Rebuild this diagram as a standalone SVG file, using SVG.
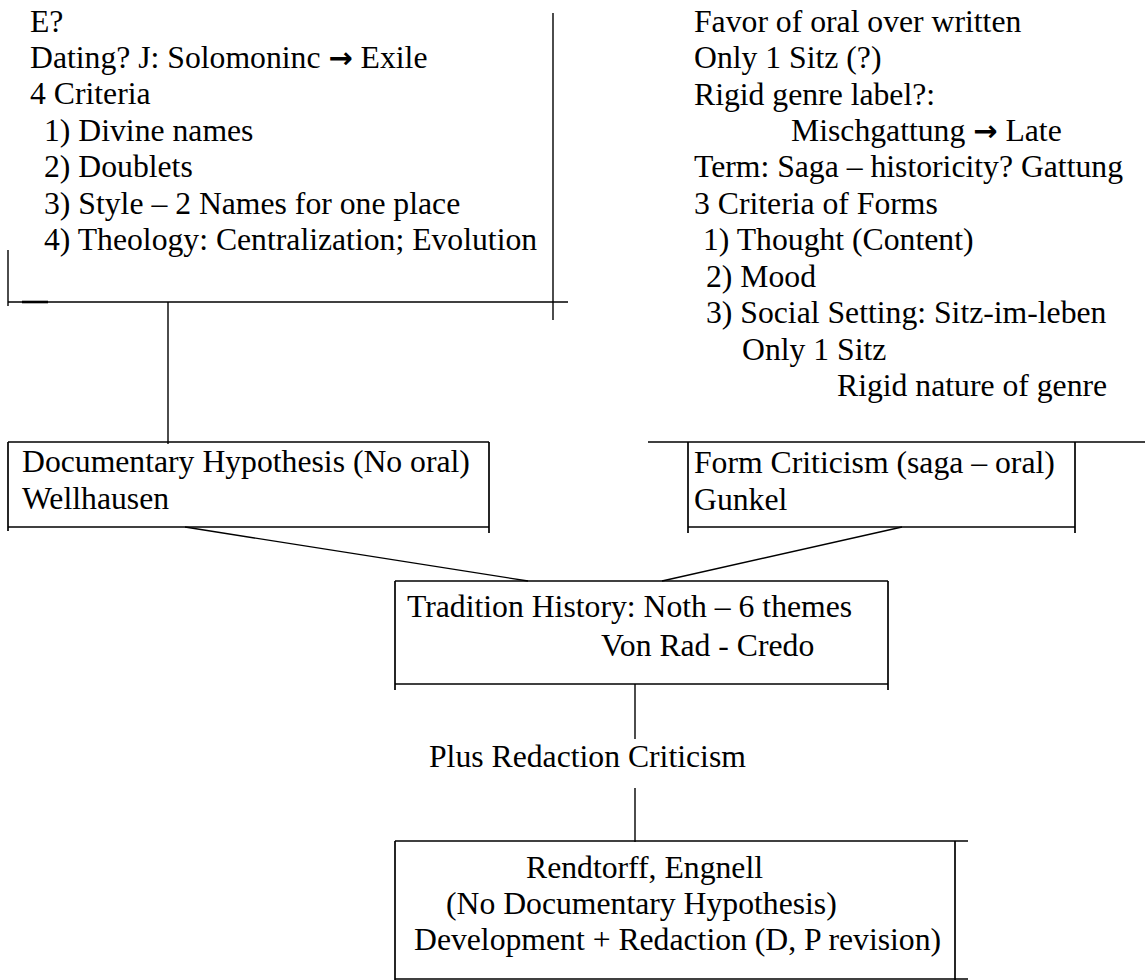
<svg xmlns="http://www.w3.org/2000/svg" width="1145" height="980" viewBox="0 0 1145 980">
  <style>
    .t { font-family: "Liberation Serif", "Times New Roman", serif; font-size: 31.7px; fill: #000; }
    .ar { font-family: "DejaVu Sans", sans-serif; font-weight: bold; font-size: 29px; }
    .ln { stroke: #000; stroke-width: 1.4; fill: none; }
    .bx { stroke: #000; stroke-width: 1.7; fill: none; }
  </style>
  <rect x="0" y="0" width="1145" height="980" fill="#fff"/>

  <g id="node-documentary-notes">
    <line class="ln" x1="553" y1="13" x2="553" y2="320"/>
    <line class="ln" x1="8" y1="302" x2="568" y2="302"/>
    <line class="ln" x1="8" y1="250" x2="8" y2="306"/>
    <line stroke="#000" stroke-width="2.6" x1="22" y1="302" x2="48" y2="302"/>
    <text class="t" x="30" y="31.5">E?</text>
    <text class="t" x="30" y="68">Dating? J: Solomoninc <tspan class="ar">→</tspan> Exile</text>
    <text class="t" x="30" y="104">4 Criteria</text>
    <text class="t" x="44" y="140.5">1) Divine names</text>
    <text class="t" x="44" y="177">2) Doublets</text>
    <text class="t" x="44" y="213.5">3) Style – 2 Names for one place</text>
    <text class="t" x="44" y="250">4) Theology: Centralization; Evolution</text>
  </g>

  <g id="node-form-notes">
    <text class="t" x="694" y="31.5">Favor of oral over written</text>
    <text class="t" x="694" y="68">Only 1 Sitz (?)</text>
    <text class="t" x="694" y="104.5">Rigid genre label?:</text>
    <text class="t" x="791" y="141">Mischgattung <tspan class="ar">→</tspan> Late</text>
    <text class="t" x="694" y="177">Term: Saga – historicity? Gattung</text>
    <text class="t" x="694" y="213.5">3 Criteria of Forms</text>
    <text class="t" x="703" y="250">1) Thought (Content)</text>
    <text class="t" x="706" y="287">2) Mood</text>
    <text class="t" x="706" y="323">3) Social Setting: Sitz-im-leben</text>
    <text class="t" x="742" y="360">Only 1 Sitz</text>
    <text class="t" x="837" y="396">Rigid nature of genre</text>
  </g>

  <g id="node-documentary">
    <line class="bx" x1="8" y1="442" x2="489" y2="442"/>
    <line class="bx" x1="8" y1="527" x2="489" y2="527"/>
    <line class="bx" x1="8" y1="442" x2="8" y2="531"/>
    <line class="bx" x1="489" y1="442" x2="489" y2="533"/>
    <text class="t" x="22" y="472">Documentary Hypothesis (No oral)</text>
    <text class="t" x="22" y="508.5">Wellhausen</text>
  </g>

  <g id="node-form">
    <line class="bx" x1="648" y1="442" x2="1145" y2="442"/>
    <line class="bx" x1="688" y1="527" x2="1075" y2="527"/>
    <line class="bx" x1="688" y1="442" x2="688" y2="533"/>
    <line class="bx" x1="1075" y1="442" x2="1075" y2="533"/>
    <text class="t" x="694" y="473">Form Criticism (saga – oral)</text>
    <text class="t" x="694" y="510">Gunkel</text>
  </g>

  <g id="node-tradition">
    <line class="bx" x1="395" y1="581" x2="888" y2="581"/>
    <line class="bx" x1="395" y1="684" x2="888" y2="684"/>
    <line class="bx" x1="395" y1="581" x2="395" y2="690"/>
    <line class="bx" x1="888" y1="581" x2="888" y2="690"/>
    <text class="t" x="407" y="617">Tradition History: Noth – 6 themes</text>
    <text class="t" x="601" y="656">Von Rad - Credo</text>
  </g>

  <g id="label-redaction">
    <text class="t" x="429" y="767">Plus Redaction Criticism</text>
  </g>

  <g id="node-rendtorff">
    <line class="bx" x1="395" y1="841" x2="968" y2="841"/>
    <line class="bx" x1="395" y1="979" x2="968" y2="979"/>
    <line class="bx" x1="395" y1="841" x2="395" y2="980"/>
    <line class="bx" x1="955" y1="841" x2="955" y2="980"/>
    <text class="t" x="526" y="878">Rendtorff, Engnell</text>
    <text class="t" x="446" y="914">(No Documentary Hypothesis)</text>
    <text class="t" x="414" y="950">Development + Redaction (D, P revision)</text>
  </g>

  <g id="connectors">
    <line class="ln" x1="168" y1="302" x2="168" y2="444"/>
    <line class="ln" x1="185" y1="527" x2="528" y2="581"/>
    <line class="ln" x1="902" y1="527" x2="662" y2="581"/>
    <line class="ln" x1="635" y1="684" x2="635" y2="739"/>
    <line class="ln" x1="635" y1="788" x2="635" y2="842"/>
  </g>
</svg>
